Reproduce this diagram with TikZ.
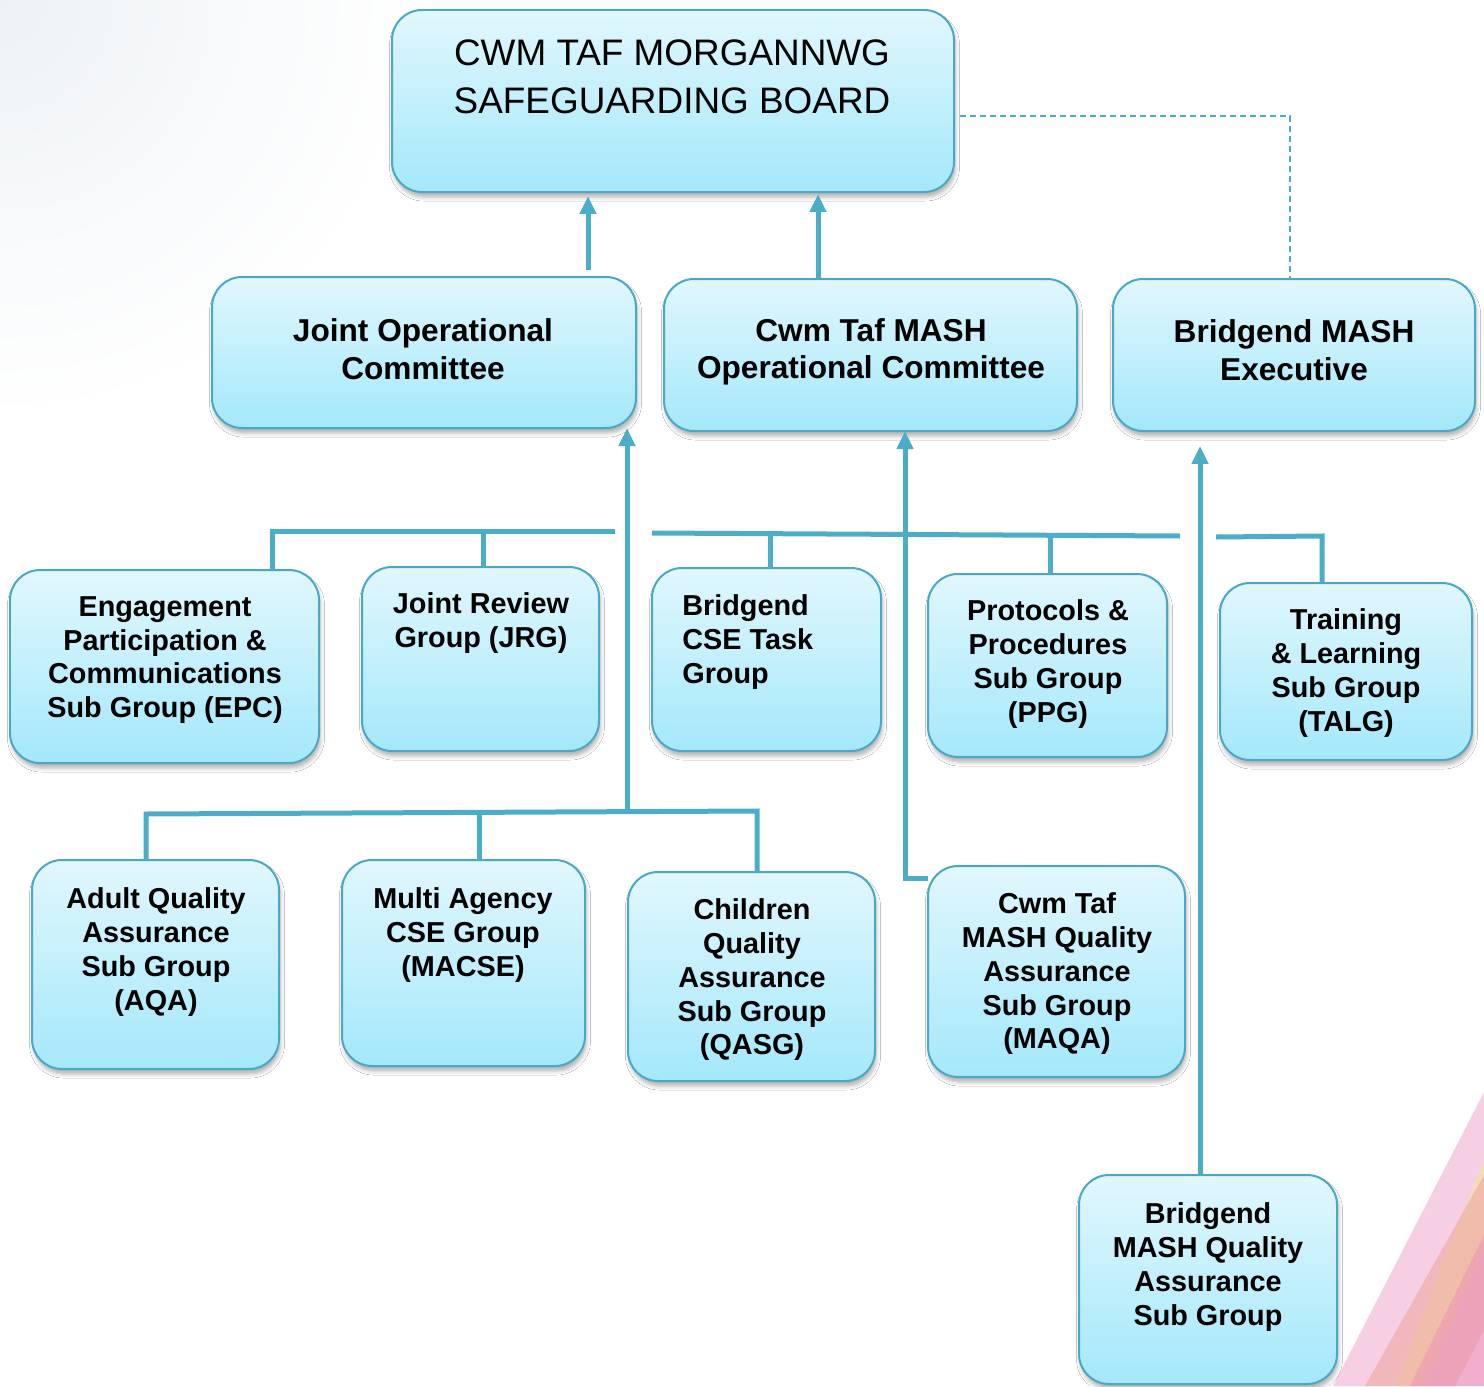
\documentclass[tikz,border=0pt]{standalone}
\usepackage{fontspec}
\setmainfont{Liberation Sans}
\usetikzlibrary{arrows.meta,fit,shadows.blur}
\definecolor{boxtop}{HTML}{E1F7FD}
\definecolor{boxbot}{HTML}{A4E8FB}
\definecolor{bordclr}{HTML}{4BA8C4}
\definecolor{lineclr}{HTML}{4AAEC8}
\definecolor{pinkA}{HTML}{F7CFE5}
\definecolor{yellowA}{HTML}{F1E3A6}
\definecolor{salmonA}{HTML}{EEA8A0}
\definecolor{hotpinkA}{HTML}{EC8FB8}
\definecolor{haze}{HTML}{EEF2F5}
\begin{document}
\begin{tikzpicture}[x=0.02cm,y=-0.02cm,
  box/.style={draw=bordclr, line width=0.04cm, rounded corners=0.6cm,
    top color=boxtop, bottom color=boxbot, inner sep=0pt, outer sep=0pt,
    blur shadow={shadow xshift=0.03cm, shadow yshift=-0.1cm, shadow opacity=30,
      shadow blur steps=4, shadow blur radius=0.08cm}},
  ttl/.style={font=\fontsize{21pt}{27.2pt}\selectfont, align=center, inner sep=0pt},
  big/.style={font=\bfseries\fontsize{18pt}{21.3pt}\selectfont, align=center, inner sep=0pt},
  small/.style={font=\bfseries\fontsize{16.4pt}{19.2pt}\selectfont, align=center, inner sep=0pt},
  conn/.style={draw=lineclr, line width=0.1cm},
  arr/.style={conn, -{Triangle[length=0.36cm,width=0.32cm]}},
  dashconn/.style={draw=lineclr, line width=0.03cm, dash pattern=on 0.12cm off 0.08cm}]
\useasboundingbox (0,0) rectangle (1484,1386);
\fill[white] (0,0) rectangle (1484,1386);
\begin{scope}
\clip (0,0) rectangle (1484,1386);
\shade[inner color=haze, outer color=white] (0,0) circle (420);
% decoration bottom right
\fill[pinkA] (1333,1386) -- (1484,1092) -- (1484,1386) -- cycle;
\fill[yellowA, opacity=0.7] (1395,1386) -- (1484,1160) -- (1484,1250) -- (1425,1386) -- cycle;
\fill[salmonA, opacity=0.6] (1365,1386) -- (1484,1175) -- (1484,1330) -- (1455,1386) -- cycle;
\fill[hotpinkA, opacity=0.5] (1410,1386) -- (1484,1235) -- (1484,1386) -- cycle;
\end{scope}

% boxes
\node[box, fit={(392,10) (954,192)}] (board) {};
\node[box, fit={(212,277) (636,428)}] (joc) {};
\node[box, fit={(664,279) (1077,431)}] (ctmoc) {};
\node[box, fit={(1113,279) (1475,431)}] (bexec) {};
\node[box, fit={(10,570) (319,763)}] (epc) {};
\node[box, fit={(362,567) (599,751)}] (jrg) {};
\node[box, fit={(652,568) (881,751)}] (bcse) {};
\node[box, fit={(928,574) (1167,757)}] (ppg) {};
\node[box, fit={(1220,583) (1472,760)}] (talg) {};
\node[box, fit={(32,860) (279,1069)}] (aqa) {};
\node[box, fit={(342,860) (585,1066)}] (macse) {};
\node[box, fit={(628,872) (875,1081)}] (qasg) {};
\node[box, fit={(928,866) (1185,1077)}] (maqa) {};
\node[box, fit={(1079,1175) (1337,1384)}] (bmqa) {};

% texts
\node[ttl] (board-t) at (672,77) {CWM TAF MORGANNWG\\SAFEGUARDING BOARD};
\node[big] (joc-t) at (423,349) {Joint Operational\\Committee};
\node[big] (ctmoc-t) at (871,352) {Cwm Taf MASH\\Operational Committee};
\node[big] (bexec-t) at (1294,350) {Bridgend MASH\\Executive};
\node[small] (epc-t) at (165,660) {Engagement\\Participation \&\\Communications\\Sub Group (EPC)};
\node[small] (jrg-t) at (481,623) {Joint Review\\Group (JRG)};
\node[small, anchor=west, align=left] (bcse-t) at (682,642) {Bridgend\\CSE Task\\Group};
\node[small] (ppg-t) at (1048,664) {Protocols \&\\Procedures\\Sub Group\\(PPG)};
\node[small] (talg-t) at (1346,673) {Training\\\& Learning\\Sub Group\\(TALG)};
\node[small] (aqa-t) at (156,952) {Adult Quality\\Assurance\\Sub Group\\(AQA)};
\node[small] (macse-t) at (463,935) {Multi Agency\\CSE Group\\(MACSE)};
\node[small] (qasg-t) at (752,980) {Children\\Quality\\Assurance\\Sub Group\\(QASG)};
\node[small] (maqa-t) at (1057,974) {Cwm Taf\\MASH Quality\\Assurance\\Sub Group\\(MAQA)};
\node[small] (bmqa-t) at (1208,1267) {Bridgend\\MASH Quality\\Assurance\\Sub Group};

% free ends of the bus lines
\coordinate (busL) at (615,531);
\coordinate (busM0) at (652,533);
\coordinate (busM1) at (1180,536);
\coordinate (busR0) at (1216,537);
\coordinate (busLow) at (627,812);

% connectors to the board
\draw[arr, shorten <=0.14cm, shorten >=0.08cm] (588,0 |- joc.north) -- (588,0 |- board.south);
\draw[arr, shorten >=0.04cm] (818,0 |- ctmoc.north) -- (818,0 |- board.south);
\draw[dashconn, shorten <=0.12cm] (board.east |- 0,116) -| (1290,0 |- bexec.north);

% upper bus
\draw[conn] (272,0 |- epc.north) -- (272,531) -- (busL);
\draw[conn] (483,0 |- jrg.north) -- (483,532);
\draw[conn] (busM0) -- (busM1);
\draw[conn] (770,0 |- bcse.north) -- (770,534);
\draw[conn] (1050,0 |- ppg.north) -- (1050,535);
\draw[conn] (busR0) -- (1322,536) -- (1322,0 |- talg.north);

% lower bus
\draw[conn] (146,0 |- aqa.north) -- (146,814) -- (757,811) -- (757,0 |- qasg.north);
\draw[conn] (479,0 |- macse.north) -- (479,813);
\draw[arr] (busLow) -- (627,0 |- joc.south);

% MASH quality lines
\draw[arr] (maqa.west |- 0,878) -| (905,0 |- ctmoc.south);
\draw[arr, shorten >=0.3cm] (1200,0 |- bmqa.north) -- (1200,0 |- bexec.south);
\end{tikzpicture}
\end{document}
